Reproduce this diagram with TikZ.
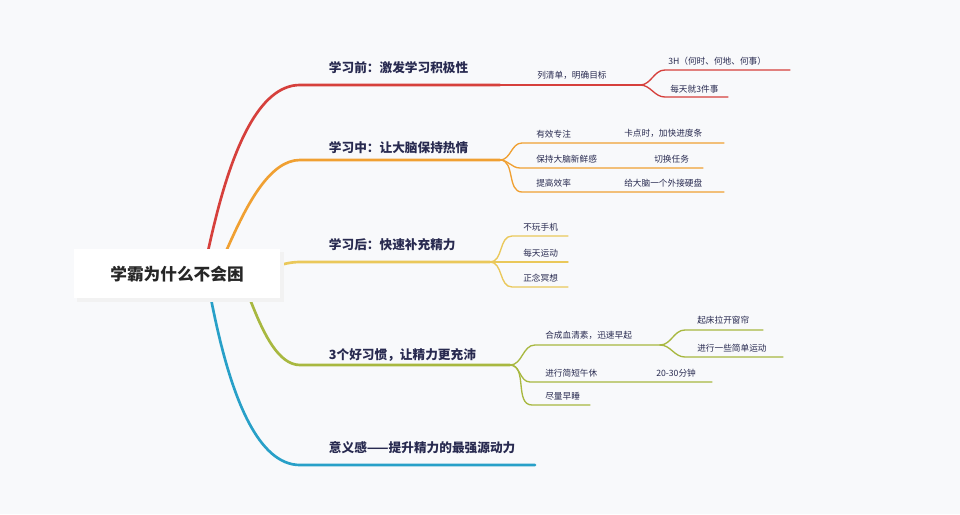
\documentclass[tikz,border=0pt]{standalone}
\usepackage{fontspec}
\setmainfont{Noto Sans CJK SC}
\usepackage{xcolor}
\definecolor{bgc}{RGB}{248,249,251}
\definecolor{txt}{RGB}{40,42,80}
\definecolor{cred}{RGB}{214,64,60}
\definecolor{corg}{RGB}{240,160,50}
\definecolor{cyel}{RGB}{234,200,90}
\definecolor{cgrn}{RGB}{168,184,64}
\definecolor{cblu}{RGB}{40,160,200}
\tikzset{
  main/.style={anchor=south west,inner sep=2pt,text=txt,font=\fontsize{9.5}{11}\selectfont\bfseries},
  sub/.style={anchor=south west,inner sep=1.5pt,text=txt,font=\fontsize{6.5}{8}\selectfont},
  trunk/.style={line width=2pt,line cap=round},
  twig/.style={line width=1pt,line cap=round}
}
\begin{document}
\begin{tikzpicture}[x=0.75pt,y=0.75pt,yscale=-1,xscale=1]
\fill[bgc] (0,0) rectangle (960,514);
\useasboundingbox (0,0) rectangle (960,514);
%branch 1
\draw[trunk,cred] (196,274) to[out=88,in=180] (300,85) -- (500,85);
\node[main] at (326,77) {学习前：激发学习积极性};
\node[sub] at (535,82) {列清单，明确目标};
\draw[twig,cred] (500,85) -- (640,85);
\draw[twig,cred] (640,85) to[out=0,in=180] (665,70) -- (790,70);
\draw[twig,cred] (640,85) to[out=0,in=180] (665,97) -- (728,97);
\node[sub] at (666,68) {3H（何时、何地、何事）};
\node[sub] at (668,95) {每天就3件事};
%branch 2
\draw[trunk,corg] (200,274) to[out=80,in=180] (300,160) -- (500,160);
\node[main] at (326,157) {学习中：让大脑保持热情};
\draw[twig,corg] (500,160) to[out=0,in=180] (522,143) -- (724,143);
\draw[twig,corg] (500,160) to[out=0,in=180] (520,168) -- (703,168);
\draw[twig,corg] (500,160) to[out=0,in=180] (522,192) -- (724,192);
\node[sub] at (534,140) {有效专注};
\node[sub] at (622,140) {卡点时，加快进度条};
\node[sub] at (534,165) {保持大脑新鲜感};
\node[sub] at (652,165) {切换任务};
\node[sub] at (534,189) {提高效率};
\node[sub] at (622,189) {给大脑一个外接硬盘};
%branch 3
\draw[trunk,cyel] (205,274) to[out=40,in=180] (300,262) -- (490,262);
\node[main] at (326,254) {学习后：快速补充精力};
\draw[twig,cyel] (490,262) to[out=0,in=180] (512,236) -- (568,236);
\draw[twig,cyel] (490,262) -- (568,262);
\draw[twig,cyel] (490,262) to[out=0,in=180] (512,287) -- (568,287);
\node[sub] at (521,233) {不玩手机};
\node[sub] at (521,259) {每天运动};
\node[sub] at (521,284) {正念冥想};
%branch 4
\draw[trunk,cgrn] (230,280) to[out=-75,in=180] (300,365) -- (510,365);
\node[main] at (326,364) {3个好习惯，让精力更充沛};
\draw[twig,cgrn] (510,365) to[out=0,in=180] (535,345) -- (660,345);
\draw[twig,cgrn] (660,345) to[out=0,in=180] (685,330) -- (763,330);
\draw[twig,cgrn] (660,345) to[out=0,in=180] (685,357) -- (783,357);
\draw[twig,cgrn] (510,365) to[out=0,in=180] (530,382) -- (712,382);
\draw[twig,cgrn] (510,365) to[out=0,in=180] (532,405) -- (590,405);
\node[sub] at (543,342) {合成血清素，迅速早起};
\node[sub] at (695,327) {起床拉开窗帘};
\node[sub] at (695,354) {进行一些简单运动};
\node[sub] at (543,379) {进行简短午休};
\node[sub] at (654,379) {20-30分钟};
\node[sub] at (543,402) {尽量早睡};
%branch 5
\draw[trunk,cblu] (200,274) to[out=-88,in=180] (300,465) -- (535,465);
\node[main] at (326,457) {意义感——提升精力的最强源动力};
%root
\fill[black!5] (77,252) rectangle (284,302);
\fill[white] (74,249) rectangle (280,298);
\node (root) at (177,274) [text=black!85,font=\fontsize{12.5}{14}\selectfont\bfseries] {学霸为什么不会困};
\end{tikzpicture}
\end{document}
